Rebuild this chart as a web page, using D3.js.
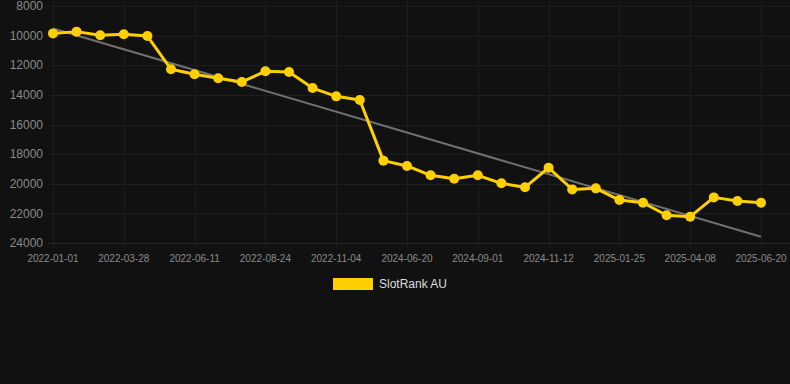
<!DOCTYPE html>
<html>
<head>
<meta charset="utf-8">
<script src="https://cdn.jsdelivr.net/npm/d3@7"></script>
<style>
  html, body { margin: 0; padding: 0; background: #111111; }
  svg { display: block; }
  text { font-family: "Liberation Sans", Arial, sans-serif; }
</style>
</head>
<body>
<svg id="chart" width="790" height="384"></svg>
<script>
const dates = [
  "2022-01-01","2022-01-26","2022-02-21","2022-03-28","2022-04-22","2022-05-17",
  "2022-06-11","2022-07-06","2022-07-31","2022-08-24","2022-09-18","2022-10-11",
  "2022-11-04","2022-11-29","2024-05-26","2024-06-20","2024-07-14","2024-08-08",
  "2024-09-01","2024-09-25","2024-10-19","2024-11-12","2024-12-06","2024-12-31",
  "2025-01-25","2025-02-18","2025-03-14","2025-04-08","2025-05-02","2025-05-26",
  "2025-06-20"
];
const tickLabels = ["2022-01-01","2022-03-28","2022-06-11","2022-08-24","2022-11-04",
  "2024-06-20","2024-09-01","2024-11-12","2025-01-25","2025-04-08","2025-06-20"];
const rankValues = [
  9850, 9730, 9980, 9910, 10030, 12270, 12610, 12880, 13130, 12410, 12460,
  13540, 14100, 14350, 18440, 18800, 19430, 19660, 19430, 19970, 20240, 18920,
  20380, 20310, 21100, 21280, 22130, 22220, 20920, 21170, 21280
];
const yTicks = [8000, 10000, 12000, 14000, 16000, 18000, 20000, 22000, 24000];
const seriesName = "SlotRank AU";

const svg = d3.select("#chart");
const x = d3.scalePoint().domain(dates).range([53, 761]);
const y = d3.scaleLinear().domain([8000, 24000]).range([6, 243]);

const gridColor = "#1d1d1d";
const labelColor = "#8a8a8a";

// horizontal grid
svg.append("g").selectAll("line").data(yTicks).join("line")
  .attr("x1", 48).attr("x2", 790)
  .attr("y1", d => Math.round(y(d)) + 0.5).attr("y2", d => Math.round(y(d)) + 0.5)
  .attr("stroke", d => d === 24000 ? "#2a2a2a" : gridColor).attr("stroke-width", 1);

// vertical grid
svg.append("g").selectAll("line").data(tickLabels).join("line")
  .attr("x1", d => Math.round(x(d)) + 0.5).attr("x2", d => Math.round(x(d)) + 0.5)
  .attr("y1", 0).attr("y2", 248)
  .attr("stroke", gridColor).attr("stroke-width", 1);

// y labels
svg.append("g").selectAll("text").data(yTicks).join("text")
  .attr("x", 43).attr("y", d => y(d))
  .attr("dy", "0.35em")
  .attr("text-anchor", "end")
  .attr("fill", labelColor).attr("font-size", 12)
  .text(d => d);

// x labels
svg.append("g").selectAll("text").data(tickLabels).join("text")
  .attr("x", d => x(d)).attr("y", 262)
  .attr("text-anchor", "middle")
  .attr("fill", labelColor).attr("font-size", 10)
  .text(d => d);

// trend line (least squares)
const n = rankValues.length;
const idx = d3.range(n);
const mx = d3.mean(idx), my = d3.mean(rankValues);
const slope = d3.sum(idx, i => (i - mx) * (rankValues[i] - my)) / d3.sum(idx, i => (i - mx) ** 2);
const intercept = my - slope * mx;
const trend = [0, n - 1].map(i => ({ d: dates[i], v: intercept + slope * i }));
svg.append("path")
  .datum(trend)
  .attr("fill", "none").attr("stroke", "#707070").attr("stroke-width", 2)
  .attr("d", d3.line().x(p => x(p.d)).y(p => y(p.v)));

// series line
const pts = dates.map((d, i) => ({ d, v: rankValues[i] }));
svg.append("path")
  .datum(pts)
  .attr("fill", "none").attr("stroke", "#FFD000").attr("stroke-width", 3)
  .attr("stroke-linejoin", "round")
  .attr("d", d3.line().x(p => x(p.d)).y(p => y(p.v)));

svg.append("g").selectAll("circle").data(pts).join("circle")
  .attr("cx", p => x(p.d)).attr("cy", p => y(p.v))
  .attr("r", 5).attr("fill", "#FFD000");

// legend
const lg = svg.append("g");
lg.append("rect").attr("x", 333).attr("y", 278).attr("width", 40).attr("height", 12).attr("fill", "#FFD000");
lg.append("text").attr("x", 379).attr("y", 284).attr("dy", "0.35em")
  .attr("fill", "#dddddd").attr("font-size", 12).text(seriesName);
</script>
</body>
</html>
